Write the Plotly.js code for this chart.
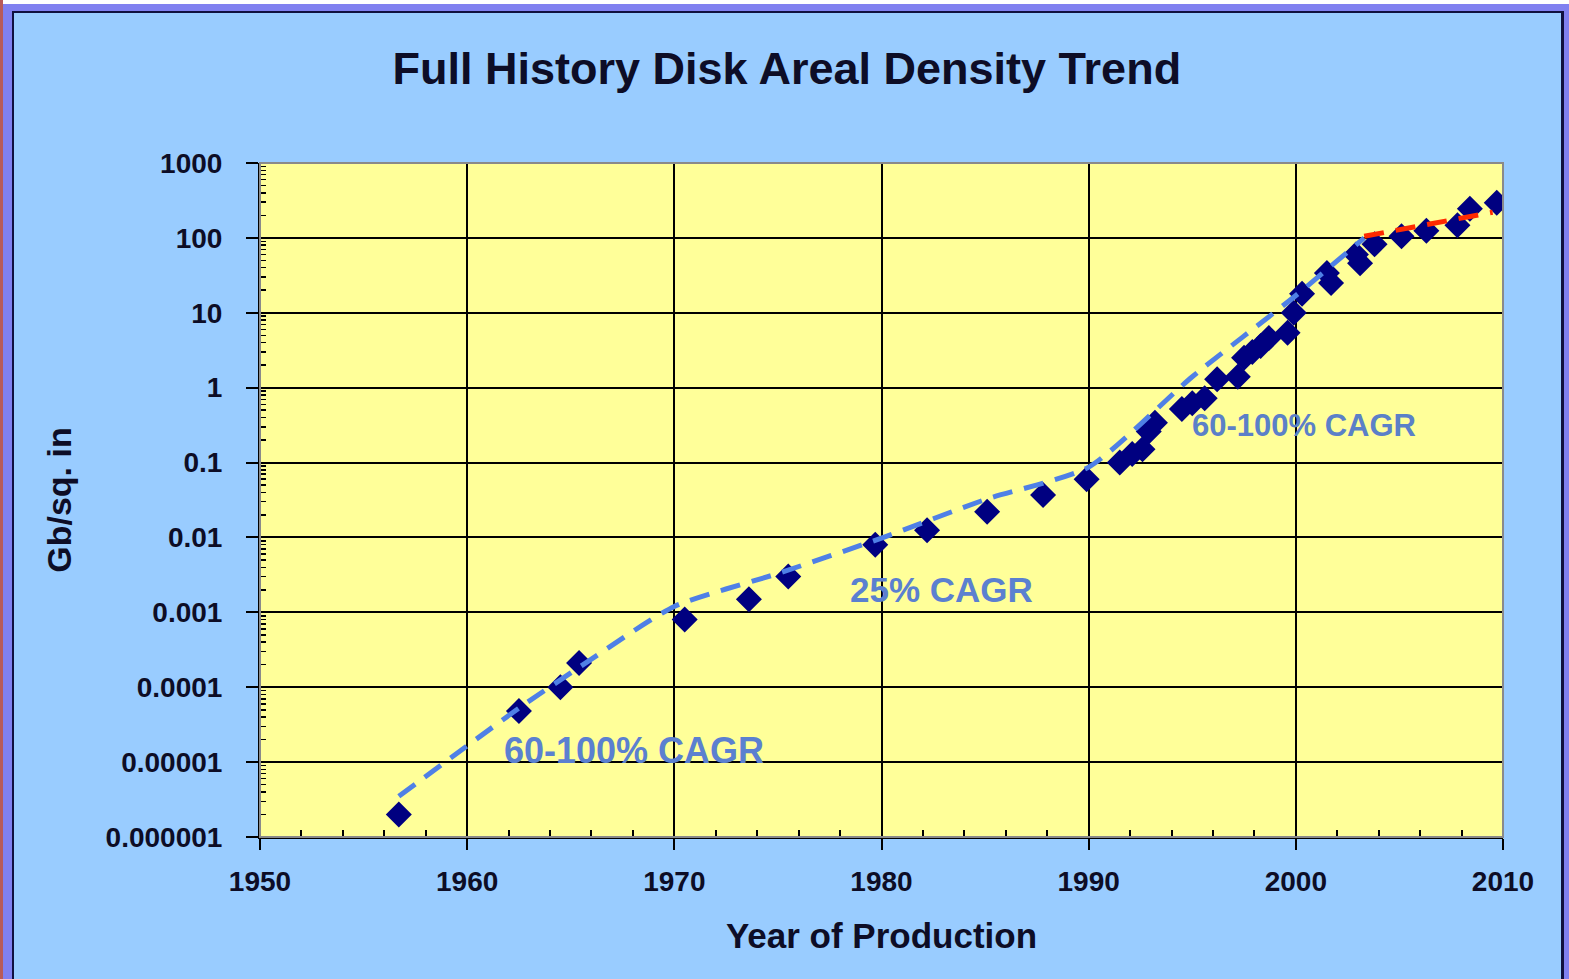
<!DOCTYPE html>
<html>
<head>
<meta charset="utf-8">
<script src="https://cdn.plot.ly/plotly-3.0.1.min.js"></script>
<style>
  html, body { margin: 0; padding: 0; width: 1569px; height: 979px; overflow: hidden; background: #8080f0; }
  #topstrip { position: absolute; left: 0; top: 0; width: 1569px; height: 4px; background: #ffffff; }
  #leftstrip { position: absolute; left: 0; top: 0; width: 3px; height: 979px; background: #b85a5a; }
  #panel { position: absolute; left: 12px; top: 11px; width: 1547px; height: 975px; background: #99ccff;
           border-left: 2px solid #101040; border-top: 2px solid #101040; border-right: 3px solid #101040; }
  #chart { position: absolute; left: 0; top: 0; width: 1569px; height: 979px; }
</style>
</head>
<body>
<div id="topstrip"></div>
<div id="leftstrip"></div>
<div id="panel"></div>
<div id="chart"></div>
<script>
// Observed products: year of production and areal density (Gb/sq. in)
const obsYears = [1956.7, 1962.5, 1964.5, 1965.4, 1970.5, 1973.6, 1975.5, 1979.7, 1982.2, 1985.1,
  1987.8, 1989.9, 1991.5, 1992.1, 1992.6, 1992.9, 1993.2, 1994.5, 1995.0, 1995.6,
  1996.2, 1997.2, 1997.5, 1997.9, 1998.3, 1998.7, 1999.6, 1999.9, 2000.3, 2001.5,
  2001.7, 2002.9, 2003.1, 2003.8, 2005.1, 2006.3, 2007.8, 2008.4, 2009.7];
const obsDensity = [0.000002, 0.000048, 0.0001, 0.00021, 0.0008, 0.0015, 0.003, 0.008, 0.0125, 0.022,
  0.037, 0.06, 0.1, 0.13, 0.15, 0.26, 0.34, 0.52, 0.62, 0.72,
  1.3, 1.4, 2.5, 3.0, 3.6, 4.6, 5.4, 10, 18, 34,
  25, 60, 46, 82, 105, 125, 148, 245, 295];

// Trend line (blue dashed) read along its path
const trendBlueYears = [1956.7, 1962.6, 1965.6, 1970, 1975, 1980, 1985, 1990, 1995, 2000, 2003.3];
const trendBlueVals  = [0.0000035, 0.000055, 0.0002, 0.0012, 0.0033, 0.0098, 0.032, 0.087, 1.4, 17, 100];

// Recent trend (red dashed)
const trendRedYears = [2003.3, 2009.5];
const trendRedVals  = [105, 220];

// Axis ticks
const xTickVals = [1950, 1960, 1970, 1980, 1990, 2000, 2010];
const yTickVals = [0.000001, 0.00001, 0.0001, 0.001, 0.01, 0.1, 1, 10, 100, 1000];
const yTickText = ['0.000001', '0.00001', '0.0001', '0.001', '0.01', '0.1', '1', '10', '100', '1000'];

const FONT = 'Liberation Sans, Arial, sans-serif';
const TXT = '#0d0d26';

const traces = [
  {
    x: obsYears, y: obsDensity, type: 'scatter', mode: 'markers',
    marker: { symbol: 'diamond', size: 20, color: '#000080', line: { width: 0 } },
    hoverinfo: 'x+y', showlegend: false
  },
  {
    x: trendBlueYears, y: trendBlueVals, type: 'scatter', mode: 'lines',
    line: { color: '#4f80e6', width: 5, dash: '20px,12px', shape: 'spline', smoothing: 0.6 },
    hoverinfo: 'skip', showlegend: false
  },
  {
    x: trendRedYears, y: trendRedVals, type: 'scatter', mode: 'lines',
    line: { color: '#ff2a00', width: 5, dash: '20px,12px' },
    hoverinfo: 'skip', showlegend: false
  }
];

const layout = {
  width: 1569, height: 979,
  margin: { l: 260, r: 66, t: 163, b: 142, pad: 0 },
  paper_bgcolor: 'rgba(0,0,0,0)',
  plot_bgcolor: '#ffff99',
  showlegend: false,
  font: { family: FONT, color: TXT, weight: 'bold' },
  title: {
    text: 'Full History Disk Areal Density Trend',
    font: { family: FONT, size: 45, color: TXT, weight: 'bold' },
    x: 0.5015, xanchor: 'center', y: 1 - 68 / 979, yanchor: 'middle', xref: 'container', yref: 'container'
  },
  xaxis: {
    range: [1950, 2010], tickmode: 'array', tickvals: xTickVals,
    ticks: 'outside', ticklen: 11, tickwidth: 2, tickcolor: '#000',
    ticklabelstandoff: 7,
    tickfont: { family: FONT, size: 28, color: TXT, weight: 'bold' },
    showline: true, linecolor: '#000', linewidth: 2,
    showgrid: true, gridcolor: '#000', gridwidth: 2, zeroline: false,
    minor: { ticks: 'inside', dtick: 2, tick0: 1950, ticklen: 7, tickwidth: 2, tickcolor: '#000', showgrid: false },
    title: { text: 'Year of Production', font: { family: FONT, size: 35, color: TXT, weight: 'bold' }, standoff: 28 }
  },
  yaxis: {
    type: 'log', range: [-6, 3], tickmode: 'array', tickvals: yTickVals, ticktext: yTickText,
    ticks: 'outside', ticklen: 12, tickwidth: 2, tickcolor: '#000',
    ticklabelstandoff: 18,
    tickfont: { family: FONT, size: 28, color: TXT, weight: 'bold' },
    showline: true, linecolor: '#000', linewidth: 2,
    showgrid: true, gridcolor: '#000', gridwidth: 2, zeroline: false,
    minor: { ticks: 'inside', dtick: 'D1', ticklen: 6, tickwidth: 1.5, tickcolor: '#000', showgrid: false },
    title: { text: 'Gb/sq. in', font: { family: FONT, size: 34, color: TXT, weight: 'bold' }, standoff: 24 }
  },
  shapes: [
    { type: 'rect', xref: 'paper', yref: 'paper', x0: 0, x1: 1, y0: 0, y1: 1,
      line: { color: '#8a8a8a', width: 2 }, fillcolor: 'rgba(0,0,0,0)', layer: 'above' }
  ],
  annotations: [
    { x: 1968.05, y: -4.84, xref: 'x', yref: 'y', text: '60-100% CAGR', showarrow: false,
      font: { family: FONT, size: 36, color: '#5b80d0', weight: 'bold' } },
    { x: 1982.9, y: -2.70, xref: 'x', yref: 'y', text: '25% CAGR', showarrow: false,
      font: { family: FONT, size: 35, color: '#5b80d0', weight: 'bold' } },
    { x: 2000.4, y: -0.50, xref: 'x', yref: 'y', text: '60-100% CAGR', showarrow: false,
      font: { family: FONT, size: 31, color: '#5b80c8', weight: 'bold' } }
  ]
};

Plotly.newPlot('chart', traces, layout, { displayModeBar: false, staticPlot: true });
</script>
</body>
</html>
